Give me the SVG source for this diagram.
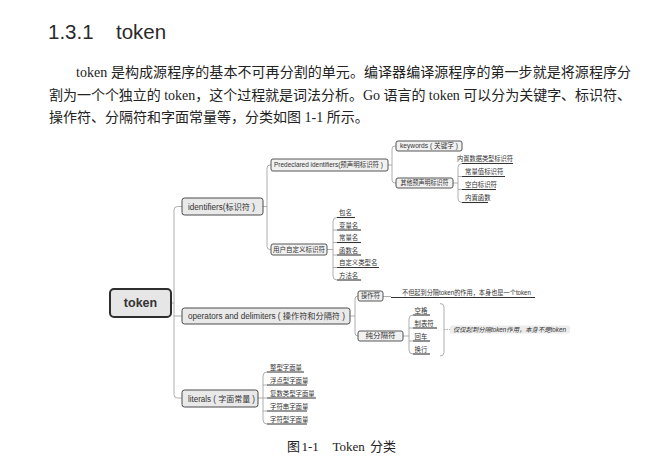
<svg xmlns="http://www.w3.org/2000/svg" width="658" height="461" viewBox="0 0 658 461">
<style>
.sp{fill:none;stroke:#9a9a9a;stroke-width:0.8}
.ul{fill:none;stroke:#333;stroke-width:1.1}
.box{fill:#e9e9e9;stroke:#4a4a4a;stroke-width:1}
.sbox{fill:#f1f1f1;stroke:#444;stroke-width:0.9}
.t{font-family:"Liberation Sans","Noto Sans CJK SC",sans-serif;fill:#333}
.m{font-size:8.3px;text-anchor:middle}
.s{font-size:6.5px;text-anchor:middle}
.leaf{font-size:6.4px}
.body{font-family:"Liberation Serif","Noto Sans CJK SC",serif;fill:#222;font-size:14px}
</style>
<rect width="658" height="461" fill="#ffffff"/>
<g id="heading">
<text x="48" y="38.5" font-family="Liberation Sans, sans-serif" font-size="20.5" fill="#2a2a2a">1.3.1</text>
<text x="116" y="38.5" font-family="Liberation Sans, sans-serif" font-size="20.5" fill="#2a2a2a">token</text>
</g>
<g id="paragraph">
<text class="body" x="76" y="77" textLength="555" lengthAdjust="spacing">token 是构成源程序的基本不可再分割的单元。编译器编译源程序的第一步就是将源程序分</text>
<text class="body" x="49" y="99.5" textLength="582" lengthAdjust="spacing">割为一个个独立的 token，这个过程就是词法分析。Go 语言的 token 可以分为关键字、标识符、</text>
<text class="body" x="49" y="122">操作符、分隔符和字面常量等，分类如图 1-1 所示。</text>
</g>

<g id="connectors">
<path class="sp" d="M171,303 H174"/>
<path class="sp" d="M182,206.5 H177.5 Q174,206.5 174,210 V394.5 Q174,398 177.5,398 H182"/>
<path class="sp" d="M174,316 H182"/>
<path class="sp" d="M263,206.5 H267"/>
<path class="sp" d="M271,165 H270 Q267,165 267,168 V246.5 Q267,249.5 270,249.5 H271"/>
<path class="sp" d="M388,165 H392"/>
<path class="sp" d="M396,146 H395 Q392,146 392,149 V180 Q392,183 395,183 H396"/>
<path class="sp" d="M453,183 H458"/>
<path class="sp" d="M462,163.5 Q458,163.5 458,167.5 V198.5 Q458,202.5 462,202.5"/>
<path class="sp" d="M458,176.5 H462 M458,189.5 H462"/>
<path class="sp" d="M327,249.5 H333"/>
<path class="sp" d="M337,217.5 Q333,217.5 333,221.5 V276 Q333,280 337,280"/>
<path class="sp" d="M333,230 H337 M333,242.5 H337 M333,255 H337 M333,267.5 H337"/>
<path class="sp" d="M350,316 H355"/>
<path class="sp" d="M358,296 H358 Q355,296 355,299 V333 Q355,336 358,336"/>
<path class="sp" d="M383,296.5 H391"/>
<path class="sp" d="M403,336 H409"/>
<path class="sp" d="M413,315 Q409,315 409,319 V350 Q409,354 413,354"/>
<path class="sp" d="M409,328 H413 M409,341 H413"/>
<path class="sp" d="M258,398 H263"/>
<path class="sp" d="M267,372 Q263,372 263,376 V420 Q263,424 267,424"/>
<path class="sp" d="M263,385 H267 M263,398 H267 M263,411 H267"/>
<path class="sp" d="M440,303.5 Q444,303.5 444,307 V352.5 Q444,356 440,356"/>
<path class="sp" d="M444,329.5 H450" stroke-dasharray="1.5,1"/>
</g>

<g id="token">
<rect x="110" y="289" width="61" height="28" rx="4" fill="#e6e6e6" stroke="#2e2e2e" stroke-width="2"/>
<text class="t" x="140.5" y="307.3" font-size="12.5" font-weight="bold" text-anchor="middle" fill="#3a3a3a">token</text>
</g>
<g id="identifiers">
<rect class="box" x="182" y="198" width="81" height="17" rx="2.5"/>
<text class="t m" x="221.5" y="209.5" textLength="67" lengthAdjust="spacingAndGlyphs">identifiers(标识符 )</text>
</g>
<g id="operators">
<rect class="box" x="182" y="308" width="168" height="16" rx="2.5"/>
<text class="t m" x="266.5" y="319" textLength="157" lengthAdjust="spacingAndGlyphs">operators and delimiters ( 操作符和分隔符 )</text>
</g>
<g id="literals">
<rect class="box" x="182" y="390" width="76" height="17" rx="2.5"/>
<text class="t m" x="221.5" y="401.5" textLength="67" lengthAdjust="spacingAndGlyphs">literals ( 字面常量 )</text>
</g>
<g id="predeclared">
<rect class="sbox" x="271" y="159" width="117" height="12" rx="2"/>
<text class="t s" x="328.5" y="167.4" textLength="109" lengthAdjust="spacingAndGlyphs">Predeclared identifiers(预声明标识符 )</text>
</g>
<g id="userdefined">
<rect class="sbox" x="271" y="244" width="56" height="11" rx="2"/>
<text class="t s" x="299" y="251.9" textLength="52" lengthAdjust="spacingAndGlyphs">用户自定义标识符</text>
</g>
<g id="keywords">
<rect class="sbox" x="396" y="141" width="66" height="10" rx="2"/>
<text class="t s" x="429" y="148.4" textLength="58" lengthAdjust="spacingAndGlyphs">keywords ( 关键字 )</text>
</g>
<g id="otherpredeclared">
<rect class="sbox" x="396" y="178" width="57" height="10" rx="2"/>
<text class="t s" x="424.5" y="185.4" textLength="48" lengthAdjust="spacingAndGlyphs">其他预声明标识符</text>
</g>
<g id="op">
<rect class="sbox" x="358" y="291" width="25" height="10" rx="2"/>
<text class="t s" x="370.5" y="298.4" textLength="19" lengthAdjust="spacingAndGlyphs">操作符</text>
</g>
<g id="puredelim">
<rect class="sbox" x="358" y="331" width="45" height="10" rx="2"/>
<text class="t s" x="380.5" y="338.4" textLength="30" lengthAdjust="spacingAndGlyphs">纯分隔符</text>
</g>

<g id="op-note">
<line class="ul" x1="391" y1="297.5" x2="535" y2="297.5" stroke-width="1.2"/>
<text class="t leaf" x="466.5" y="294.5" text-anchor="middle" textLength="129" lengthAdjust="spacingAndGlyphs">不但起到分隔token的作用，本身也是一个token</text>
</g>

<g id="other-children">
<line class="ul" x1="462" y1="163.5" x2="513" y2="163.5"/>
<text class="t leaf" x="457" y="160.5" textLength="56" lengthAdjust="spacingAndGlyphs">内置数据类型标识符</text>
<line class="ul" x1="462" y1="176.5" x2="505" y2="176.5"/>
<text class="t leaf" x="465" y="174.2">常量值标识符</text>
<line class="ul" x1="462" y1="189.5" x2="496" y2="189.5"/>
<text class="t leaf" x="465" y="187.2">空白标识符</text>
<line class="ul" x1="462" y1="202.5" x2="488" y2="202.5"/>
<text class="t leaf" x="465" y="200.2">内置函数</text>
</g>

<g id="user-children">
<line class="ul" x1="337" y1="217.5" x2="355" y2="217.5"/>
<text class="t leaf" x="339" y="215.2">包名</text>
<line class="ul" x1="337" y1="230" x2="361" y2="230"/>
<text class="t leaf" x="339" y="227.7">变量名</text>
<line class="ul" x1="337" y1="242.5" x2="361" y2="242.5"/>
<text class="t leaf" x="339" y="240.2">常量名</text>
<line class="ul" x1="337" y1="255" x2="361" y2="255"/>
<text class="t leaf" x="339" y="252.7">函数名</text>
<line class="ul" x1="337" y1="267.5" x2="379" y2="267.5"/>
<text class="t leaf" x="339" y="265.2">自定义类型名</text>
<line class="ul" x1="337" y1="280" x2="361" y2="280"/>
<text class="t leaf" x="339" y="277.7">方法名</text>
</g>

<g id="delim-children">
<line class="ul" x1="413" y1="315" x2="430" y2="315"/>
<text class="t leaf" x="414.5" y="312.7">空格</text>
<line class="ul" x1="413" y1="328" x2="437" y2="328"/>
<text class="t leaf" x="414.5" y="325.7">制表符</text>
<line class="ul" x1="413" y1="341" x2="430" y2="341"/>
<text class="t leaf" x="414.5" y="338.7">回车</text>
<line class="ul" x1="413" y1="354" x2="430" y2="354"/>
<text class="t leaf" x="414.5" y="351.7">换行</text>
</g>

<g id="delim-note">
<rect x="450" y="325.5" width="120" height="8" rx="2" fill="#ececec"/>
<text class="t leaf" x="453" y="331.8" font-style="italic" fill="#6a6a6a" textLength="113" lengthAdjust="spacingAndGlyphs">仅仅起到分隔token作用，本身不是token</text>
</g>

<g id="literal-children">
<line class="ul" x1="267" y1="372" x2="304" y2="372"/>
<text class="t leaf" x="270" y="369.7">整型字面量</text>
<line class="ul" x1="267" y1="385" x2="307" y2="385"/>
<text class="t leaf" x="270" y="382.7">浮点型字面量</text>
<line class="ul" x1="267" y1="398" x2="316" y2="398"/>
<text class="t leaf" x="270" y="395.7">复数类型字面量</text>
<line class="ul" x1="267" y1="411" x2="307" y2="411"/>
<text class="t leaf" x="270" y="408.7">字符串字面量</text>
<line class="ul" x1="267" y1="424" x2="307" y2="424"/>
<text class="t leaf" x="270" y="421.7">字符型字面量</text>
</g>

<g id="caption" font-family="Liberation Serif, Noto Sans CJK SC, serif" font-size="13" fill="#222">
<text x="287" y="450.5">图</text>
<text x="301.5" y="450.5">1-1</text>
<text x="332.5" y="450.5">Token</text>
<text x="370" y="450.5">分类</text>
</g>
</svg>
